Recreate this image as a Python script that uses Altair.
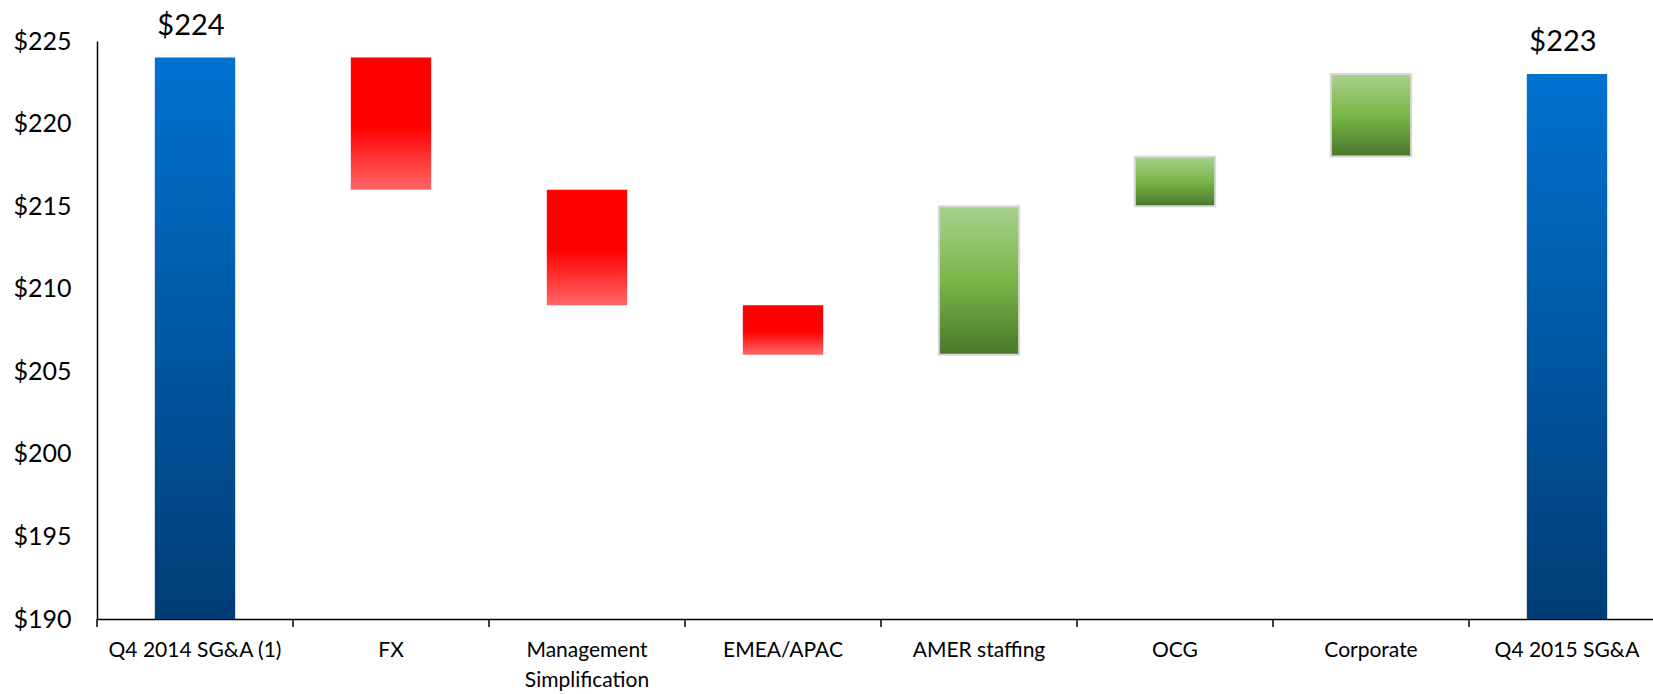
import altair as alt
import pandas as pd

categories = ["Q4 2014 SG&A (1)", "FX", "Management Simplification", "EMEA/APAC",
              "AMER staffing", "OCG", "Corporate", "Q4 2015 SG&A"]
kinds = ["total", "down", "down", "down", "up", "up", "up", "total"]
amounts = [224, -8, -7, -3, 9, 3, 5, 223]
y_ticks = [190, 195, 200, 205, 210, 215, 220, 225]
axis_min = 190

lows, highs = [], []
running = 0
for k, a in zip(kinds, amounts):
    if k == "total":
        running = a
        lows.append(axis_min)
        highs.append(a)
    else:
        start = running
        running = running + a
        lows.append(min(start, running))
        highs.append(max(start, running))

df = pd.DataFrame({"cat": categories, "kind": kinds, "low": lows, "high": highs,
                   "label": ["$" + str(h) if k == "total" else "" for k, h in zip(kinds, highs)]})

W, H = 1556, 578
FONT = "Lato"

xscale = alt.Scale(domain=categories, paddingInner=0, paddingOuter=0, range=[0, 1568])
yscale = alt.Scale(domain=[190, 225], nice=False, zero=False)

x_enc = alt.X("cat:N", scale=xscale, sort=categories, title=None,
              axis=alt.Axis(labelAngle=0, ticks=False, labelPadding=20, labelFont=FONT,
                            labelFontSize=21, labelColor="#000000", domainColor="#000000",
                            domainWidth=1.5, labelLineHeight=30, labelLimit=0,
                            labelExpr="datum.label == 'Management Simplification' ? ['Management', 'Simplification'] : datum.label"))
y_enc = alt.Y("low:Q", scale=yscale, title=None,
              axis=alt.Axis(values=y_ticks, grid=False, ticks=False, labelPadding=26, labelFont=FONT,
                            labelFontSize=25, labelColor="#000000", domainColor="#000000",
                            domainWidth=1.5, labelExpr="'$' + datum.value"))

def grad(stops):
    return alt.Gradient(gradient="linear", x1=0, x2=0, y1=0, y2=1,
                        stops=[alt.GradientStop(color=c, offset=o) for o, c in stops])

blue = grad([(0, "#0072D0"), (1, "#003D76")])
red = grad([(0, "#FF0000"), (0.52, "#FF0000"), (1, "#FF6666")])
green = grad([(0, "#A9D18E"), (0.5, "#7AB648"), (1, "#4A772C")])

base = alt.Chart(df)
bw = alt.RelativeBandSize(0.41)

totals = base.transform_filter("datum.kind == 'total'").mark_bar(color=blue, width=bw).encode(
    x=x_enc, y=y_enc, y2="high:Q")
downs = base.transform_filter("datum.kind == 'down'").mark_bar(color=red, width=bw).encode(
    x=x_enc, y=y_enc, y2="high:Q")
ups = base.transform_filter("datum.kind == 'up'").mark_bar(
    color=green, width=bw, stroke="#D9D9D9", strokeWidth=2).encode(
    x=x_enc, y=y_enc, y2="high:Q")

labels = base.transform_filter("datum.kind == 'total'").mark_text(
    font=FONT, fontSize=29, baseline="alphabetic", dy=-23, dx=-4, color="#000000").encode(
    x=alt.X("cat:N", scale=xscale, sort=categories),
    y=alt.Y("high:Q", scale=yscale), text="label:N")

ticks = base.mark_rule(color="#000000", strokeWidth=1.5).encode(
    x=alt.X("cat:N", scale=xscale, sort=categories, bandPosition=0),
    y=alt.value(H), y2=alt.value(H + 8))

chart = alt.layer(totals, downs, ups, labels, ticks).properties(
    width=W, height=H,
    padding={"left": 97, "top": 41, "right": 0, "bottom": 75},
    autosize=alt.AutoSizeParams(type="none"),
).configure_view(stroke=None)

chart.save("out.html", embed_options={"renderer": "svg", "actions": False})
